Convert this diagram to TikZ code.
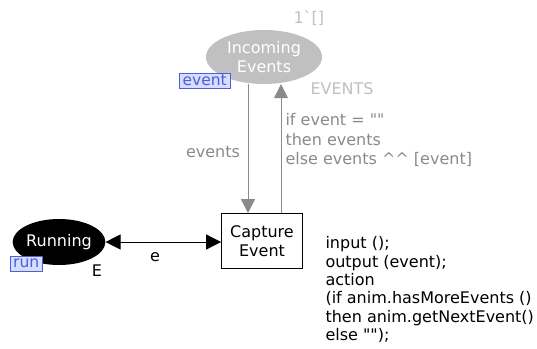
\documentclass[tikz,border=0pt]{standalone}
\usepackage{fontspec}
\newfontfamily\verd{DejaVu Sans}
\usetikzlibrary{arrows.meta,shapes.geometric}
\definecolor{placegray}{HTML}{C0C0C0}
\definecolor{arcgray}{HTML}{8A8A8A}
\definecolor{lblue}{HTML}{D8DCFF}
\definecolor{dblue}{HTML}{4A5FD8}
\begin{document}
\begin{tikzpicture}[x=1pt,y=-1pt,
  every node/.style={font=\verd\fontsize{16}{19.5}\selectfont},
  place/.style={ellipse,minimum width=#1,align=center,inner sep=0pt},
  trans/.style={draw,thick,fill=white,minimum width=81,minimum height=55,align=center,inner sep=0pt},
  tag/.style={draw=dblue,fill=lblue,text=dblue,inner xsep=3pt,inner ysep=1pt,minimum height=15,font=\verd\fontsize{15.5}{15}\selectfont},
  grayarc/.style={draw=arcgray,thick,-{Triangle[length=14,width=14]}},
  blackarc/.style={draw=black,thick,{Triangle[length=15,width=15]}-{Triangle[length=15,width=15]}},
  glabel/.style={text=arcgray,anchor=west,align=left},
  llabel/.style={text=placegray,anchor=west}]
\useasboundingbox (0,0) rectangle (537,348);
\node[place=116,minimum height=54,fill=placegray,text=white] (inc) at (264,57) {Incoming\\Events};
\node[llabel] (init) at (290,18) {1`[]};
\node[tag,anchor=north east] (evtag) at (230,72.5) {event\hspace{4pt}};
\node[llabel] (type) at (307,89) {EVENTS};
\node[trans] (cap) at (262,241) {Capture\\Event};
\node[place=82,minimum height=46,fill=black,text=white] (run) at (59,242) {Running};
\node[tag,anchor=north west] (runtag) at (10,256) {run\hspace{4pt}};
\node (E) at (97,271) {E};
\draw[grayarc] (inc.south -| 248,0) -- (cap.north -| 248,0);
\draw[grayarc] (cap.north -| 281,0) -- (inc.south -| 281,0);
\node[text=arcgray] (l1) at (213,152) {events};
\node[glabel] (l2) at (282,140) {if event = ""\\then events\\else events \^{}\^{} [event]};
\draw[blackarc] (run.east) -- (run.east -| cap.west);
\node (e) at (155,257) {e};
\node[anchor=north west,align=left,font=\verd\fontsize{16}{18.4}\selectfont] (code) at (322,233) {input ();\\output (event);\\action\\(if anim.hasMoreEvents ()\\then anim.getNextEvent()\\else "");};
\end{tikzpicture}
\end{document}
